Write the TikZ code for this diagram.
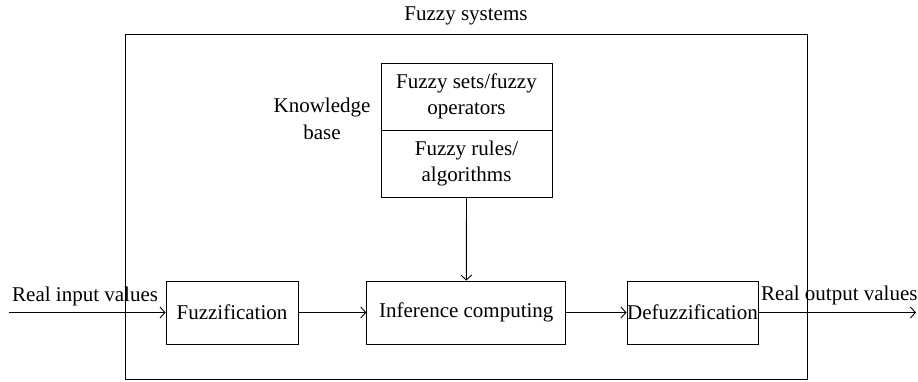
\documentclass[tikz,border=0pt]{standalone}
\usepackage{fontspec}
\setmainfont{Liberation Serif}
\usetikzlibrary{arrows.meta}
\begin{document}
\begin{tikzpicture}[x=1pt,y=-1pt,
  every node/.style={font=\fontsize{21}{26.5}\selectfont, inner sep=0pt},
  blk/.style={draw, line width=0.9pt, minimum height=63pt},
  kbox/.style={draw, line width=0.9pt, minimum width=171pt, minimum height=67pt, align=center},
  conn/.style={line width=0.9pt, -{Straight Barb[length=5pt,width=11pt,line width=0.9pt]}},
  lbl/.style={anchor=base west}]
\useasboundingbox (0,0) rectangle (918,381);
\fill[white] (0,0) rectangle (918,381);
% outer system box
\node[draw, line width=0.9pt, minimum width=682pt, minimum height=345pt] (sys) at (466,206.5) {};
\node[anchor=base] (title) at (466,20) {Fuzzy systems};
% knowledge base
\node[kbox] (kb1) at (466.5,96.5) {Fuzzy sets/fuzzy\\operators};
\node[kbox] (kb2) at (466.5,163.5) {Fuzzy rules/\\algorithms};
\node[align=center] (kbl) at (322,119) {Knowledge\\base};
% processing blocks
\node[blk, minimum width=132pt] (fuzz) at (232,312.5) {Fuzzification};
\node[blk, minimum width=199pt] (inf) at (466.3,312.5) {Inference computing};
\node[blk, minimum width=131pt] (defz) at (692.5,312.5) {Defuzzification};
% free ends
\coordinate (in) at (9,312.5);
\coordinate (out) at (916,312.5);
% connectors
\draw[conn] (in) -- (fuzz.west);
\draw[conn] (fuzz.east) -- (inf.west);
\draw[conn] (inf.east) -- (defz.west);
\draw[conn] (defz.east) -- (out);
\draw[conn] (kb2.south) -- (inf.north);
% labels
\node[lbl] (rin) at (12,301.5) {Real input values};
\node[lbl] (rout) at (761,300.5) {Real output values};
\end{tikzpicture}
\end{document}
